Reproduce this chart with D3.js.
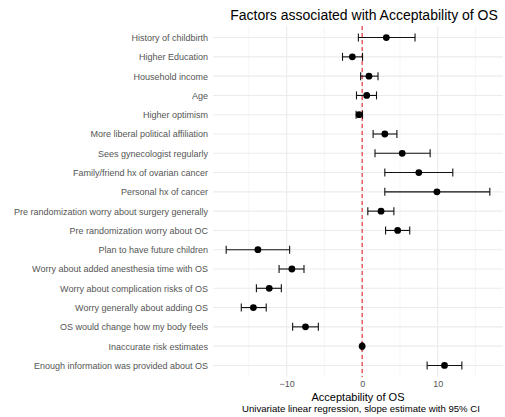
<!DOCTYPE html>
<html>
<head>
<meta charset="utf-8">
<script src="https://cdn.jsdelivr.net/npm/d3@7"></script>
<style>
  body { margin: 0; background: #fff; }
  text { font-family: "Liberation Sans", Arial, Helvetica, sans-serif; }
</style>
</head>
<body>
<div id="chart"></div>
<script>
// Factor labels, top to bottom
const factors = [
    "History of childbirth",
    "Higher Education",
    "Household income",
    "Age",
    "Higher optimism",
    "More liberal political affiliation",
    "Sees gynecologist regularly",
    "Family/friend hx of ovarian cancer",
    "Personal hx of cancer",
    "Pre randomization worry about surgery generally",
    "Pre randomization worry about OC",
    "Plan to have future children",
    "Worry about added anesthesia time with OS",
    "Worry about complication risks of OS",
    "Worry generally about adding OS",
    "OS would change how my body feels",
    "Inaccurate risk estimates",
    "Enough information was provided about OS"
]

// slope estimates and 95% CI
const estimates = [3.2, -1.3, 0.9, 0.6, -0.4, 3.0, 5.3, 7.5, 9.9, 2.5, 4.7, -13.8, -9.3, -12.3, -14.4, -7.5, 0.0, 10.9]
const lowerCI   = [-0.5, -2.6, -0.2, -0.75, -0.8, 1.45, 1.7, 3.0, 3.0, 0.75, 3.1, -18.0, -11.0, -14.0, -16.0, -9.2, -0.1, 8.6]
const upperCI   = [7.0, 0.05, 2.1, 1.9, 0.05, 4.6, 9.0, 12.0, 16.9, 4.2, 6.3, -9.6, -7.7, -10.7, -12.7, -5.8, 0.1, 13.2]

const majorTicks = [-10, 0, 10]
const minorTicks = [-15, -5, 5, 15]

const width = 505
const height = 417
const margin = { top: 26, right: 2, bottom: 40, left: 213 }

const rows = factors.map((f, i) => ({ factor: f, est: estimates[i], lo: lowerCI[i], hi: upperCI[i] }))

const svg = d3.select("#chart").append("svg")
    .attr("width", width)
    .attr("height", height)

const lo = d3.min(lowerCI), hi = d3.max(upperCI)
const pad = (hi - lo) * 0.05
const xScale = d3.scaleLinear()
    .domain([lo - pad, hi + pad])
    .range([margin.left, width - margin.right])

const yScale = d3.scalePoint()
    .domain(factors)
    .range([margin.top, height - margin.bottom])
    .padding(0.6)

// grid lines
svg.append("g").selectAll("line")
    .data(minorTicks)
    .join("line")
    .attr("x1", d => xScale(d)).attr("x2", d => xScale(d))
    .attr("y1", margin.top).attr("y2", height - margin.bottom)
    .attr("stroke", "#f0f0f0")
    .attr("stroke-width", 0.6)

svg.append("g").selectAll("line")
    .data(majorTicks)
    .join("line")
    .attr("x1", d => xScale(d)).attr("x2", d => xScale(d))
    .attr("y1", margin.top).attr("y2", height - margin.bottom)
    .attr("stroke", "#ebebeb")
    .attr("stroke-width", 1.1)

svg.append("g").selectAll("line")
    .data(factors)
    .join("line")
    .attr("x1", margin.left).attr("x2", width - margin.right)
    .attr("y1", d => yScale(d)).attr("y2", d => yScale(d))
    .attr("stroke", "#ebebeb")
    .attr("stroke-width", 1.1)

// zero line
svg.append("line")
    .attr("x1", xScale(0)).attr("x2", xScale(0))
    .attr("y1", margin.top).attr("y2", height - margin.bottom)
    .attr("stroke", "#e8262b")
    .attr("stroke-width", 1.1)
    .attr("stroke-dasharray", "4,3")

// error bars
const bars = svg.append("g").selectAll("g")
    .data(rows)
    .join("g")
    .attr("stroke", "#111")
    .attr("stroke-width", 1.1)

bars.append("line")
    .attr("x1", d => xScale(d.lo)).attr("x2", d => xScale(d.hi))
    .attr("y1", d => yScale(d.factor)).attr("y2", d => yScale(d.factor))
bars.append("line")
    .attr("x1", d => xScale(d.lo)).attr("x2", d => xScale(d.lo))
    .attr("y1", d => yScale(d.factor) - 4).attr("y2", d => yScale(d.factor) + 4)
bars.append("line")
    .attr("x1", d => xScale(d.hi)).attr("x2", d => xScale(d.hi))
    .attr("y1", d => yScale(d.factor) - 4).attr("y2", d => yScale(d.factor) + 4)

svg.append("g").selectAll("circle")
    .data(rows)
    .join("circle")
    .attr("cx", d => xScale(d.est))
    .attr("cy", d => yScale(d.factor))
    .attr("r", 3.4)
    .attr("fill", "#000")

// axes (text only, like theme_minimal)
const yAxis = svg.append("g")
    .attr("transform", `translate(${margin.left - 5}, 0)`)
    .call(d3.axisLeft(yScale).tickSize(0).tickPadding(0))
yAxis.select(".domain").remove()
yAxis.selectAll("text")
    .attr("fill", "#555")
    .style("font-size", "9px")

const xAxis = svg.append("g")
    .attr("transform", `translate(0, ${height - margin.bottom})`)
    .call(d3.axisBottom(xScale).tickValues(majorTicks).tickSize(0).tickPadding(4)
        .tickFormat(d => d < 0 ? "\u2212" + Math.abs(d) : d))
xAxis.select(".domain").remove()
xAxis.selectAll("text")
    .attr("fill", "#555")
    .style("font-size", "9px")

const cx = (margin.left + width - margin.right) / 2

svg.append("text")
    .attr("x", cx + 6)
    .attr("y", 20)
    .attr("text-anchor", "middle")
    .style("font-size", "14px")
    .attr("fill", "#000")
    .text("Factors associated with Acceptability of OS")

svg.append("text")
    .attr("x", cx)
    .attr("y", 401)
    .attr("text-anchor", "middle")
    .style("font-size", "11px")
    .attr("fill", "#000")
    .text("Acceptability of OS")

svg.append("text")
    .attr("x", cx + 3)
    .attr("y", 412)
    .attr("text-anchor", "middle")
    .style("font-size", "9.6px")
    .attr("fill", "#000")
    .text("Univariate linear regression, slope estimate with 95% CI")
</script>
</body>
</html>
